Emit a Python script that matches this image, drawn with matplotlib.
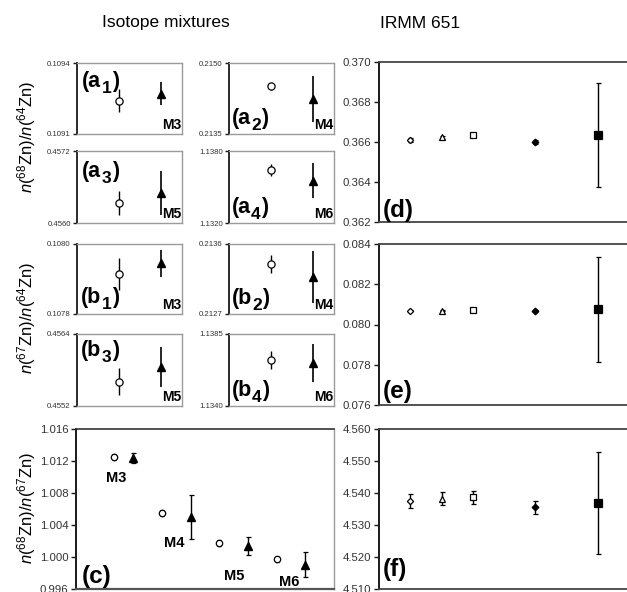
import matplotlib
matplotlib.use('Agg')
import matplotlib.pyplot as plt
from matplotlib.ticker import FormatStrFormatter, MultipleLocator

plt.rcParams['font.family'] = ['Liberation Sans', 'DejaVu Sans']
plt.rcParams['mathtext.fontset'] = 'custom'
plt.rcParams['mathtext.rm'] = 'Liberation Sans'
plt.rcParams['mathtext.it'] = 'Liberation Sans:italic'
plt.rcParams['mathtext.bf'] = 'Liberation Sans:bold'

# ---------------- data ----------------
mix_labels = ['M3', 'M4', 'M5', 'M6']

# n(68Zn)/n(64Zn) : open circle series and filled triangle series
a_circle = [0.10924, 0.21451, 0.456338, 1.13643]
a_circle_err = [0.0000486, 0.00007, 0.0002, 0.00048]
a_tri = [0.10927, 0.21424, 0.456505, 1.13554]
a_tri_err = [0.000049, 0.000495, 0.000367, 0.00149]
a_ylims = [(0.1091, 0.1094), (0.2135, 0.2150), (0.4560, 0.4572), (1.1320, 1.1380)]

# n(67Zn)/n(64Zn)
b_circle = [0.107914, 0.213344, 0.455605, 1.136864]
b_circle_err = [0.0000467, 0.000115, 0.000228, 0.00058]
b_tri = [0.107945, 0.213174, 0.455855, 1.136699]
b_tri_err = [0.000038, 0.000337, 0.000333, 0.00119]
b_ylims = [(0.1078, 0.1080), (0.2127, 0.2136), (0.4552, 0.4564), (1.1340, 1.1385)]

# n(68Zn)/n(67Zn)
c_circle = [1.01250, 1.00546, 1.00171, 0.99971]
c_circle_err = [0.00037, 0.00037, 0.00037, 0.00031]
c_tri = [1.01241, 1.00504, 1.00138, 0.99904]
c_tri_err = [0.00062, 0.00275, 0.00110, 0.00160]

# IRMM 651 (five determinations)
d_vals = [0.366115, 0.36623, 0.36633, 0.36600, 0.36633]
d_err = [0.00010, 0.00008, 0.00010, 0.00010, 0.00260]
e_vals = [0.080686, 0.080686, 0.080700, 0.080686, 0.08075]
e_err = [0.00003, 0.00003, 0.00004, 0.00003, 0.00260]
f_vals = [4.53760, 4.53822, 4.53866, 4.53553, 4.53690]
f_err = [0.0022, 0.0021, 0.0021, 0.0020, 0.0160]

# ---------------- layout ----------------
W, H = 627, 592
fig = plt.figure(figsize=(W / 100, H / 100), dpi=100)
renderer = fig.canvas.get_renderer()


def rect(x0, y0, x1, y1):
    return [x0 / W, 1 - y1 / H, (x1 - x0) / W, (y1 - y0) / H]


DARK = '#1a1a1a'
GRAY = '#9a9a9a'


def style_small(ax, ylim):
    ax.set_xlim(0, 5)
    ax.set_ylim(*ylim)
    ax.set_xticks([])
    ax.set_yticks(list(ylim))
    ax.yaxis.set_major_formatter(FormatStrFormatter('%.4f'))
    ax.tick_params(axis='y', direction='out', length=3, width=1.0,
                   labelsize=5.6, pad=1.5, colors=DARK, labelcolor='#333333')
    for s in ['top', 'right', 'bottom']:
        ax.spines[s].set_color(GRAY)
        ax.spines[s].set_linewidth(1.0)
    ax.spines['left'].set_color(DARK)
    ax.spines['left'].set_linewidth(1.3)


def sub_label(ax, x, yb, letter, num):
    """Bold '(a' + lowered large subscript + ')' with baseline at axes fraction yb."""
    t1 = ax.text(x, yb, '(' + letter, transform=ax.transAxes, fontsize=15.5,
                 fontweight='bold', ha='left', va='baseline')
    bb = t1.get_window_extent(renderer)
    x0_disp, y0_disp = ax.transAxes.transform((x, yb))
    inv = ax.transAxes.inverted()
    sx, sy = inv.transform((bb.x1 + 0.3, y0_disp - 6.0))
    t2 = ax.text(sx, sy, str(num), transform=ax.transAxes, fontsize=12.5,
                 fontweight='bold', ha='left', va='baseline')
    bb2 = t2.get_window_extent(renderer)
    px, _ = inv.transform((bb2.x1 + 0.3, y0_disp))
    ax.text(px, yb, ')', transform=ax.transAxes, fontsize=15.5,
            fontweight='bold', ha='left', va='baseline')


small_pos = [
    [(77, 63, 182, 134), (229, 63, 334, 134), (77, 151, 182, 223), (229, 151, 334, 223)],
    [(77, 244, 182, 314), (229, 244, 334, 314), (77, 334, 182, 406), (229, 334, 334, 406)],
]
label_spec = {  # (x, baseline y) in axes fraction
    'a': [(0.05, 0.665), (0.025, 0.14), (0.05, 0.64), (0.025, 0.145)],
    'b': [(0.04, 0.16), (0.025, 0.14), (0.04, 0.69), (0.025, 0.14)],
}

for row, (letter, circ, circ_e, tri, tri_e, ylims) in enumerate([
        ('a', a_circle, a_circle_err, a_tri, a_tri_err, a_ylims),
        ('b', b_circle, b_circle_err, b_tri, b_tri_err, b_ylims)]):
    for i in range(4):
        ax = fig.add_axes(rect(*small_pos[row][i]))
        style_small(ax, ylims[i])
        ax.errorbar([2], [circ[i]], yerr=[circ_e[i]], fmt='o', ms=5.2, mfc='white',
                    mec='black', mew=0.9, ecolor='black', elinewidth=1.0, capsize=0)
        ax.errorbar([4], [tri[i]], yerr=[tri_e[i]], fmt='^', ms=6.2, mfc='black',
                    mec='black', ecolor='black', elinewidth=1.2, capsize=0)
        lx, ly = label_spec[letter][i]
        sub_label(ax, lx, ly, letter, i + 1)
        ax.text(0.99, 0.03, mix_labels[i], transform=ax.transAxes, fontsize=10,
                fontweight='bold', ha='right', va='bottom', clip_on=False)

# panel c
axc = fig.add_axes(rect(76, 429, 334, 589))
c_x_circle = [1.33, 3.0, 5.0, 7.0]
c_x_tri = [2.0, 4.0, 6.0, 8.0]
axc.errorbar(c_x_circle, c_circle, yerr=c_circle_err, fmt='o', ms=4.6, mfc='white',
             mec='black', mew=0.9, ecolor='black', elinewidth=0.9, capsize=1.5, capthick=0.9)
axc.errorbar(c_x_tri, c_tri, yerr=c_tri_err, fmt='^', ms=5.2, mfc='black',
             mec='black', ecolor='black', elinewidth=1.0, capsize=1.8, capthick=0.9)
axc.set_xlim(0, 9)
axc.set_ylim(0.996, 1.016)
axc.set_xticks([])
axc.yaxis.set_major_locator(MultipleLocator(0.004))
axc.yaxis.set_major_formatter(FormatStrFormatter('%.3f'))
axc.tick_params(axis='y', direction='out', length=3.5, width=1.0, labelsize=8.2,
                pad=2, colors=DARK, labelcolor='#333333')
axc.spines['left'].set_color(DARK)
axc.spines['left'].set_linewidth(1.4)
axc.spines['top'].set_color('#333333')
axc.spines['top'].set_linewidth(1.2)
axc.spines['bottom'].set_color('#555555')
axc.spines['bottom'].set_linewidth(1.6)
axc.spines['right'].set_color(GRAY)
axc.spines['right'].set_linewidth(1.0)
for lab, (tx, ty) in zip(mix_labels, [(0.155, 0.694), (0.38, 0.285), (0.612, 0.081), (0.826, 0.046)]):
    axc.text(tx, ty, lab, transform=axc.transAxes, fontsize=10.5, fontweight='bold',
             ha='center', va='center')
axc.text(0.022, 0.005, '(c)', transform=axc.transAxes, fontsize=17.5,
         fontweight='bold', ha='left', va='bottom')

# right panels
right_x = [1, 2, 3, 5, 7]
right_markers = [('D', 'white', 3.2), ('^', 'white', 4.0), ('s', 'white', 4.0),
                 ('D', 'black', 3.4), ('s', 'black', 5.6)]
right_specs = [
    ('d', (379, 62, 629, 222), d_vals, d_err, (0.362, 0.370), 0.002, (0.016, 0.0)),
    ('e', (379, 244, 629, 405), e_vals, e_err, (0.076, 0.084), 0.002, (0.016, 0.015)),
    ('f', (379, 429, 629, 589), f_vals, f_err, (4.510, 4.560), 0.010, (0.016, 0.05)),
]
for letter, pos, vals, errs, ylim, step, (lx, ly) in right_specs:
    ax = fig.add_axes(rect(*pos))
    for xv, v, e, (mk, fc, ms) in zip(right_x, vals, errs, right_markers):
        ax.errorbar([xv], [v], yerr=[e], fmt=mk, ms=ms, mfc=fc, mec='black', mew=0.9,
                    ecolor='black', elinewidth=1.0, capsize=1.8, capthick=0.9)
    ax.set_xlim(0, 8)
    ax.set_ylim(*ylim)
    ax.set_xticks([])
    ax.yaxis.set_major_locator(MultipleLocator(step))
    ax.yaxis.set_major_formatter(FormatStrFormatter('%.3f'))
    ax.tick_params(axis='y', direction='out', length=3.5, width=1.0, labelsize=8.2,
                   pad=2, colors=DARK, labelcolor='#333333')
    ax.spines['left'].set_color(DARK)
    ax.spines['left'].set_linewidth(1.4)
    for s in ['top', 'bottom']:
        ax.spines[s].set_color('#444444')
        ax.spines[s].set_linewidth(1.3)
    ax.spines['right'].set_visible(False)
    ax.text(lx, ly, '(%s)' % letter, transform=ax.transAxes, fontsize=17.5,
            fontweight='bold', ha='left', va='bottom')

# titles and y labels
fig.text(166 / W, 1 - 23 / H, 'Isotope mixtures', fontsize=12.5, ha='center', va='center')
fig.text(420 / W, 1 - 23 / H, 'IRMM 651', fontsize=12.5, ha='center', va='center')
ylabels = [r'$n$(${}^{68}$Zn)/$n$(${}^{64}$Zn)',
           r'$n$(${}^{67}$Zn)/$n$(${}^{64}$Zn)',
           r'$n$(${}^{68}$Zn)/$n$(${}^{67}$Zn)']
for txt, yc in zip(ylabels, [137, 318, 508]):
    fig.text(27 / W, 1 - yc / H, txt, fontsize=12, rotation=90, ha='center', va='center')

fig.savefig('out.png', dpi=100)
